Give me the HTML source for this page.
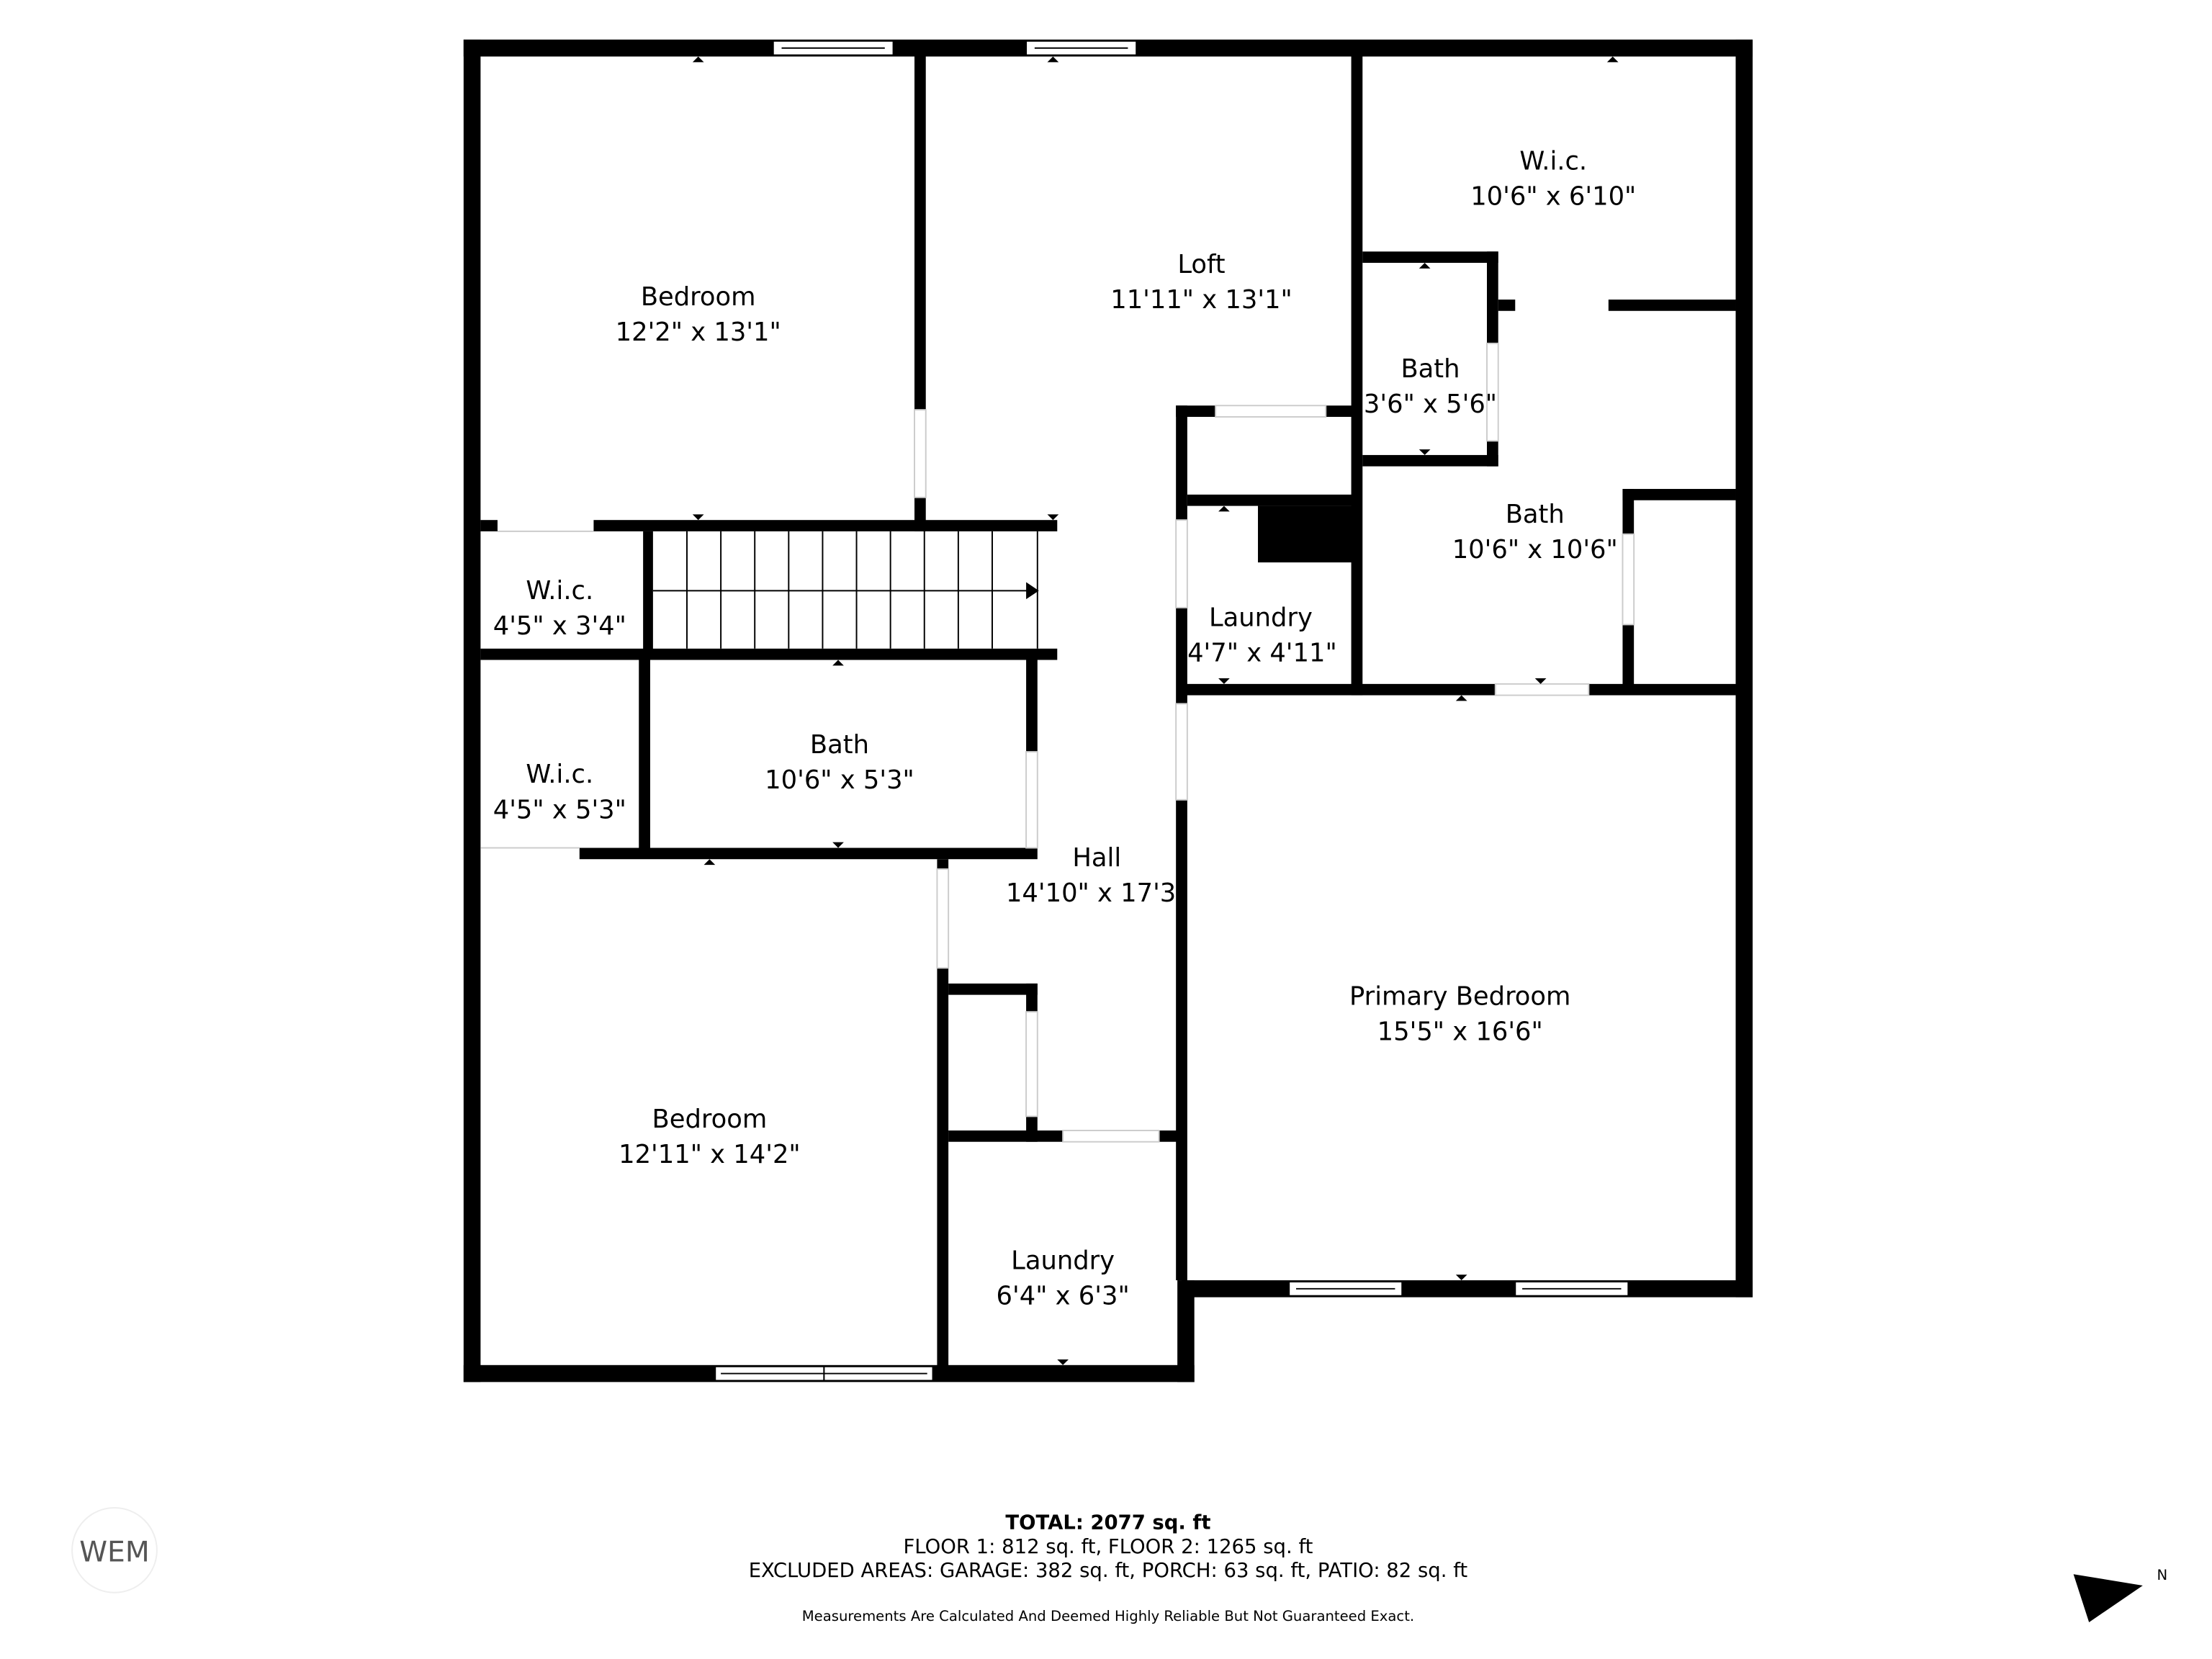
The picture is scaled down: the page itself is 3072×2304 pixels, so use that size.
<!DOCTYPE html>
<html><head><meta charset="utf-8"><style>
html,body{margin:0;padding:0;background:#fff}
svg{display:block}
text{font-family:"DejaVu Sans","Liberation Sans",sans-serif;fill:#000}
</style></head><body>
<svg width="3072" height="2304" viewBox="0 0 1565 1174" preserveAspectRatio="none" xmlns="http://www.w3.org/2000/svg">
<rect width="1565" height="1174" fill="#fff"/>
<g fill="#000">
<rect x="328" y="28" width="912" height="12"/>
<rect x="328" y="28" width="12" height="950"/>
<rect x="1228" y="28" width="12" height="890"/>
<rect x="836" y="906" width="404" height="12"/>
<rect x="328" y="966" width="517" height="12"/>
<rect x="833" y="906" width="12" height="72"/>
<rect x="647" y="40" width="8" height="250"/>
<rect x="647" y="352" width="8" height="24"/>
<rect x="340" y="368" width="12" height="8"/>
<rect x="420" y="368" width="328" height="8"/>
<rect x="455" y="376" width="7" height="90"/>
<rect x="340" y="459" width="408" height="8"/>
<rect x="452" y="467" width="8" height="138"/>
<rect x="726" y="467" width="8" height="65"/>
<rect x="410" y="600" width="324" height="8"/>
<rect x="663" y="608" width="8" height="7"/>
<rect x="663" y="685" width="8" height="285"/>
<rect x="671" y="696" width="63" height="8"/>
<rect x="726" y="696" width="8" height="20"/>
<rect x="726" y="790" width="8" height="18"/>
<rect x="671" y="800" width="81" height="8"/>
<rect x="820" y="800" width="16" height="8"/>
<rect x="832" y="287" width="8" height="81"/>
<rect x="832" y="430" width="8" height="68"/>
<rect x="832" y="566" width="8" height="340"/>
<rect x="832" y="287" width="28" height="8"/>
<rect x="938" y="287" width="24" height="8"/>
<rect x="840" y="350" width="120" height="8"/>
<rect x="890" y="358" width="68" height="40"/>
<rect x="956" y="40" width="8" height="452"/>
<rect x="836" y="484" width="222" height="8"/>
<rect x="1124" y="484" width="104" height="8"/>
<rect x="964" y="178" width="96" height="8"/>
<rect x="1052" y="178" width="8" height="65"/>
<rect x="1052" y="312" width="8" height="18"/>
<rect x="964" y="322" width="96" height="8"/>
<rect x="1060" y="212" width="12" height="8"/>
<rect x="1138" y="212" width="90" height="8"/>
<rect x="1148" y="346" width="80" height="8"/>
<rect x="1148" y="346" width="8" height="32"/>
<rect x="1148" y="442" width="8" height="48"/>
</g>
<g fill="#fff" stroke="#000" stroke-width="1">
<rect x="547" y="29" width="85" height="10"/><line x1="553" y1="34" x2="626" y2="34"/>
<rect x="726" y="29" width="78" height="10"/><line x1="732" y1="34" x2="798" y2="34"/>
<rect x="506" y="967" width="77" height="10"/><rect x="583" y="967" width="77" height="10"/>
<line x1="510" y1="972" x2="656" y2="972"/>
<rect x="912" y="907" width="80" height="10"/><line x1="917" y1="912" x2="987" y2="912"/>
<rect x="1072" y="907" width="80" height="10"/><line x1="1077" y1="912" x2="1147" y2="912"/>
</g>
<g stroke="#000" stroke-width="1">
<line x1="462" y1="418" x2="728" y2="418"/>
<line x1="486" y1="376" x2="486" y2="459"/><line x1="510" y1="376" x2="510" y2="459"/>
<line x1="534" y1="376" x2="534" y2="459"/><line x1="558" y1="376" x2="558" y2="459"/>
<line x1="582" y1="376" x2="582" y2="459"/><line x1="606" y1="376" x2="606" y2="459"/>
<line x1="630" y1="376" x2="630" y2="459"/><line x1="654" y1="376" x2="654" y2="459"/>
<line x1="678" y1="376" x2="678" y2="459"/><line x1="702" y1="376" x2="702" y2="459"/>
<line x1="734" y1="376" x2="734" y2="459"/>
</g>
<polygon points="726,412 735,418 726,424" fill="#000"/>
<g stroke="#ccc" stroke-width="1" fill="none">
<line x1="352" y1="376" x2="420" y2="376"/><line x1="340" y1="600" x2="410" y2="600"/>
<rect x="647" y="290" width="8" height="62"/>
<rect x="860" y="287" width="78" height="8"/>
<rect x="832" y="368" width="8" height="62"/>
<rect x="832" y="498" width="8" height="68"/>
<rect x="1052" y="243" width="8" height="69"/>
<rect x="1058" y="484" width="66" height="8"/>
<rect x="1148" y="378" width="8" height="64"/>
<rect x="726" y="532" width="8" height="68"/>
<rect x="663" y="615" width="8" height="70"/>
<rect x="726" y="716" width="8" height="74"/>
<rect x="752" y="800" width="68" height="8"/>
</g>
<g fill="#000">
<polygon points="490,44 498,44 494,40"/><polygon points="490,364 498,364 494,368"/>
<polygon points="741,44 749,44 745,40"/><polygon points="741,364 749,364 745,368"/>
<polygon points="1137,44 1145,44 1141,40"/><polygon points="1004,190 1012,190 1008,186"/>
<polygon points="1004,318 1012,318 1008,322"/><polygon points="1030,496 1038,496 1034,492"/>
<polygon points="1086,480 1094,480 1090,484"/><polygon points="1030,902 1038,902 1034,906"/>
<polygon points="498,612 506,612 502,608"/><polygon points="748,962 756,962 752,966"/>
<polygon points="589,471 597,471 593,467"/><polygon points="589,596 597,596 593,600"/>
<polygon points="862,362 870,362 866,358"/><polygon points="862,480 870,480 866,484"/>
</g>
<g font-size="18" text-anchor="middle">
<text x="494" y="216">Bedroom</text><text x="494" y="241">12'2" x 13'1"</text>
<text x="850" y="193">Loft</text><text x="850" y="218">11'11" x 13'1"</text>
<text x="1099" y="120">W.i.c.</text><text x="1099" y="145">10'6" x 6'10"</text>
<text x="1012" y="267">Bath</text><text x="1012" y="292">3'6" x 5'6"</text>
<text x="1086" y="370">Bath</text><text x="1086" y="395">10'6" x 10'6"</text>
<text x="892" y="443">Laundry</text><text x="893" y="468">4'7" x 4'11"</text>
<text x="396" y="424">W.i.c.</text><text x="396" y="449">4'5" x 3'4"</text>
<text x="396" y="554">W.i.c.</text><text x="396" y="579">4'5" x 5'3"</text>
<text x="594" y="533">Bath</text><text x="594" y="558">10'6" x 5'3"</text>
<text x="776" y="613">Hall</text><text x="776" y="638">14'10" x 17'3"</text>
<text x="1033" y="711">Primary Bedroom</text><text x="1033" y="736">15'5" x 16'6"</text>
<text x="502" y="798">Bedroom</text><text x="502" y="823">12'11" x 14'2"</text>
<text x="752" y="898">Laundry</text><text x="752" y="923">6'4" x 6'3"</text>
</g>
<g text-anchor="middle">
<text x="784" y="1082" font-size="14" font-weight="bold">TOTAL: 2077 sq. ft</text>
<text x="784" y="1099" font-size="14">FLOOR 1: 812 sq. ft, FLOOR 2: 1265 sq. ft</text>
<text x="784" y="1116" font-size="14">EXCLUDED AREAS: GARAGE: 382 sq. ft, PORCH: 63 sq. ft, PATIO: 82 sq. ft</text>
<text x="784" y="1147" font-size="10">Measurements Are Calculated And Deemed Highly Reliable But Not Guaranteed Exact.</text>
</g>
<circle cx="81" cy="1097" r="30" fill="none" stroke="#eee" stroke-width="1"/>
<text x="81" y="1105" font-size="20" text-anchor="middle" style="fill:#555">WEM</text>
<polygon points="1467,1114 1516,1122 1478,1148" fill="#000"/>
<text x="1526" y="1118" font-size="10">N</text>
</svg>
</body></html>
